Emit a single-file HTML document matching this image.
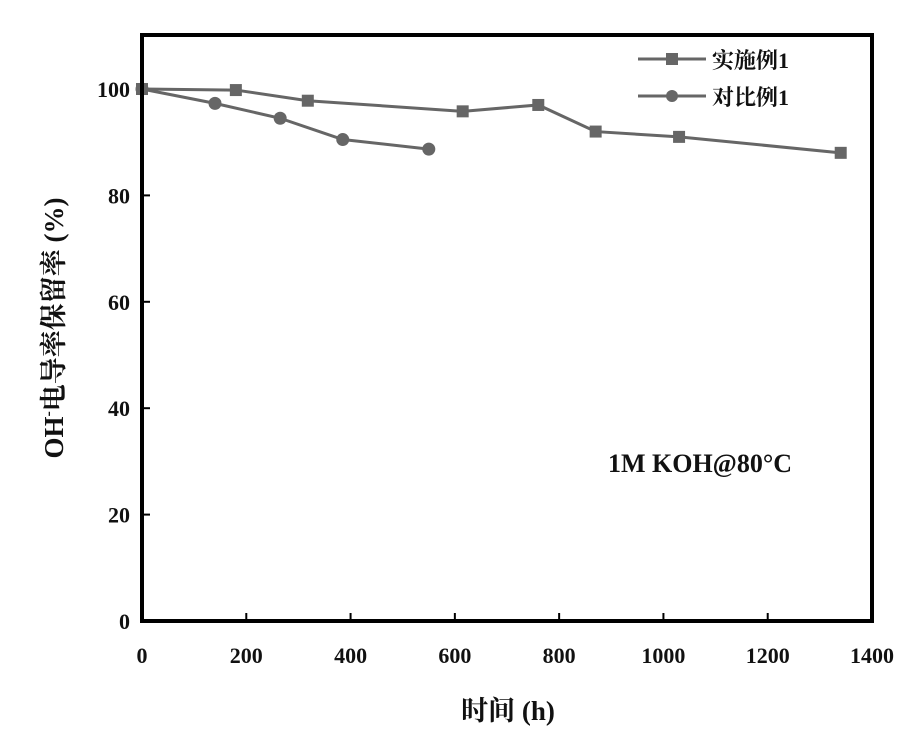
<!DOCTYPE html>
<html><head><meta charset="utf-8"><style>
body{margin:0;background:#fff;}
text{font-family:"Liberation Serif","Noto Serif CJK SC",serif;font-weight:bold;fill:#111;}
</style></head><body>
<svg width="923" height="734" xmlns="http://www.w3.org/2000/svg">
<g id="plot"></g>
<rect x="142" y="35" width="730" height="586" fill="none" stroke="#000" stroke-width="4"/>
<text x="700" y="472" font-size="26" text-anchor="middle">1M KOH@80°C</text>
<text x="508" y="720" font-size="27" text-anchor="middle">时间 (h)</text>
<text transform="translate(63,328) rotate(-90)" font-size="27" text-anchor="middle">OH<tspan font-size="16" dy="-10">-</tspan><tspan dy="10">电导率保留率 (%)</tspan></text>
<g>
<line x1="638" y1="59" x2="706" y2="59" stroke="#666" stroke-width="3"/>
<rect x="666" y="53" width="12" height="12" fill="#666"/>
<text x="712" y="68" font-size="22">实施例1</text>
<line x1="638" y1="96" x2="706" y2="96" stroke="#666" stroke-width="3"/>
<circle cx="672" cy="96" r="6" fill="#666"/>
<text x="712" y="105" font-size="22">对比例1</text>
</g>
</svg>
<script>
const xTicks=[0,200,400,600,800,1000,1200,1400];
const yTicks=[0,20,40,60,80,100];
const seriesAx=[0,180,318,615,760,870,1030,1340];
const seriesAy=[100,99.8,97.8,95.8,97,92,91,88];
const seriesBx=[0,140,265,385,550];
const seriesBy=[100,97.3,94.5,90.5,88.7];
const X=v=>142+v*730/1400, Y=v=>621-v*5.32;
const g=document.getElementById('plot');const NS='http://www.w3.org/2000/svg';
function mk(t,a){const e=document.createElementNS(NS,t);for(const k in a)e.setAttribute(k,a[k]);g.appendChild(e);return e;}
xTicks.forEach(v=>{mk('line',{x1:X(v),x2:X(v),y1:621,y2:613,stroke:'#000','stroke-width':2});
const t=mk('text',{x:X(v),y:663,'font-size':22,'text-anchor':'middle'});t.textContent=v;

});
yTicks.forEach(v=>{mk('line',{x1:142,x2:150,y1:Y(v),y2:Y(v),stroke:'#000','stroke-width':2});
const t=mk('text',{x:130,y:Y(v)+8,'font-size':22,'text-anchor':'end'});t.textContent=v;

});
function series(xs,ys,sq,name){
const p=mk('polyline',{points:xs.map((x,i)=>X(x)+','+Y(ys[i])).join(' '),fill:'none',stroke:'#666','stroke-width':3});


xs.forEach((x,i)=>{const m=sq?mk('rect',{x:X(x)-6,y:Y(ys[i])-6,width:12,height:12,fill:'#666'}):mk('circle',{cx:X(x),cy:Y(ys[i]),r:6.5,fill:'#666'});

});}
series(seriesAx,seriesAy,true,'example1');
series(seriesBx,seriesBy,false,'comparative1');
</script>
</body></html>
